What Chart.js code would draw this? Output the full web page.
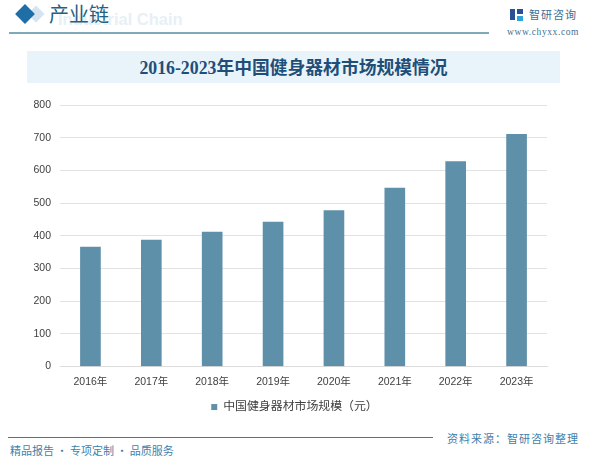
<!DOCTYPE html>
<html>
<head>
<meta charset="utf-8">
<script src="https://cdn.jsdelivr.net/npm/chart.js@4"></script>
<style>
html, body { margin: 0; padding: 0; background: #fff; }
#page { position: relative; width: 600px; height: 461px; overflow: hidden; font-family: "Noto Sans CJK SC", sans-serif; }
#page div { position: absolute; white-space: nowrap; }
canvas { position: absolute; left: 0; top: 0; }
</style>
</head>
<body>
<div id="page">
  <div style="left:30px;top:8px;width:12px;height:12px;background:#d5e4ee;transform:rotate(45deg)"></div>
  <div style="left:18px;top:7px;width:14px;height:14px;background:#1f6ea5;transform:rotate(45deg)"></div>
  <div style="left:58px;top:10px;font:bold 16.5px 'Liberation Sans';color:#e8f0f6">Industrial Chain</div>
  <div style="left:49px;top:0px;font-size:20px;line-height:28px;color:#27607f">产业链</div>
  <div style="left:9px;top:32px;width:480px;height:2px;background:#7fa8bb"></div>

  <div style="left:510px;top:9px;width:5px;height:11px;background:#2b4f96"></div>
  <div style="left:517px;top:9px;width:6px;height:5px;background:#2b4f96"></div>
  <div style="left:517px;top:16px;width:6px;height:5px;background:#2fa2dc"></div>
  <div style="left:529px;top:6px;font-size:11px;line-height:16px;letter-spacing:1px;color:#3f6f92">智研咨询</div>
  <div style="left:507px;top:27px;font:9.5px 'Liberation Serif';letter-spacing:.6px;color:#3f6f92">www.chyxx.com</div>

  <div style="left:27px;top:51px;width:533px;height:32px;background:#e9f3fa"></div>
  <div style="left:27px;top:51px;width:533px;height:32px;line-height:34px;text-align:center;font-family:'Liberation Serif','Noto Sans CJK SC';font-weight:bold;font-size:17.8px;color:#1f4e79">2016-2023年中国健身器材市场规模情况</div>

  <div style="left:8px;top:437px;width:425px;height:1px;background:#3f7a9c"></div>
  <div style="left:447px;top:430px;font-size:11px;line-height:16px;letter-spacing:1px;color:#3f7fab">资料来源：智研咨询整理</div>
  <div style="left:10px;top:442px;font-size:11px;line-height:16px;color:#3f7fab">精品报告 · 专项定制 · 品质服务</div>
  <canvas id="marketChart" width="600" height="461"></canvas>
</div>
<script>
const years = ['2016年', '2017年', '2018年', '2019年', '2020年', '2021年', '2022年', '2023年'];
const marketSize = [365, 387, 411, 442, 477, 546, 627, 710];
const seriesName = '中国健身器材市场规模（元）';
const yTicks = [0, 100, 200, 300, 400, 500, 600, 700, 800];

Chart.defaults.font.family = '"Liberation Sans", "Noto Sans CJK SC", sans-serif';
Chart.defaults.color = '#404040';
Chart.defaults.animation = false;

// legend sits a little right of the layout box in the original
const legendShift = {
    id: 'legendShift',
    afterLayout(chart) {
        chart.legend.left += 6;
        chart.legend.right += 6;
    }
};

new Chart(document.getElementById('marketChart'), {
    type: 'bar',
    data: {
        labels: years,
        datasets: [{
            label: seriesName,
            data: marketSize,
            backgroundColor: '#5f90a9',
            barThickness: 20
        }]
    },
    options: {
        responsive: false,
        layout: { padding: { left: 30, right: 53, top: 105, bottom: 38 } },
        scales: {
            y: {
                min: 0,
                max: 800,
                afterBuildTicks: (axis) => { axis.ticks = yTicks.map(v => ({ value: v })); },
                afterFit: (axis) => { axis.width = 30; },
                grid: { color: '#e2e2e2', drawTicks: false },
                border: { display: false },
                ticks: { font: { size: 10.5 }, padding: 9 }
            },
            x: {
                grid: { display: false },
                border: { color: '#dcdcdc' },
                ticks: { font: { size: 10.5 }, maxRotation: 0, padding: 1 }
            }
        },
        plugins: {
            legend: {
                display: true,
                position: 'bottom',
                labels: { boxWidth: 6, boxHeight: 6, font: { size: 11.9 }, padding: 12 }
            },
            tooltip: { enabled: false }
        }
    },
    plugins: [legendShift]
});
</script>
</body>
</html>
